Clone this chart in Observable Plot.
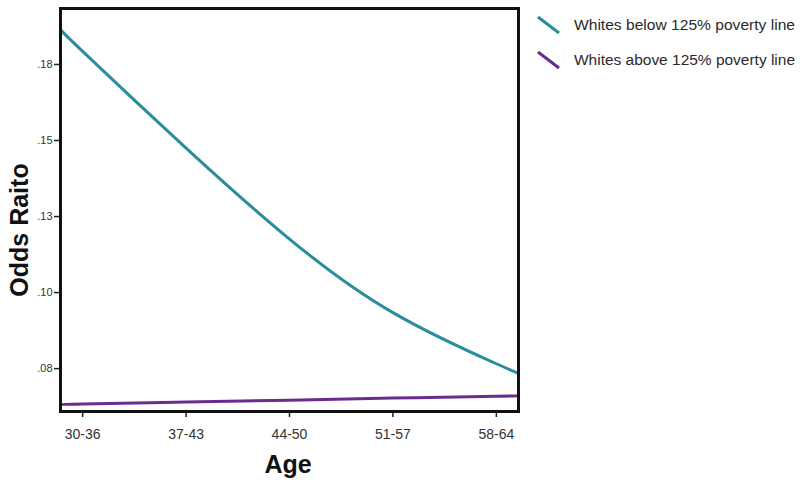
<!DOCTYPE html>
<html>
<head>
<meta charset="utf-8">
<script src="https://cdn.jsdelivr.net/npm/d3@7"></script>
<script src="https://cdn.jsdelivr.net/npm/@observablehq/plot@0.6"></script>
<style>
  html, body { margin: 0; padding: 0; background: #fff; }
  #chart { width: 800px; height: 483px; }
</style>
</head>
<body>
<div id="chart"></div>
<script>
// Age groups (category labels) and their midpoint ages
const ageLabels = ["30-36", "37-43", "44-50", "51-57", "58-64"];
const ageMid = [33, 40, 47, 54, 61];
// Plot extent of lines (age axis runs slightly beyond the first/last groups)
const ageSpan = [31.5, 62.5];
const lineAges = [31.5, 33, 40, 47, 54, 61, 62.5];

// Series values
const belowValues = [0.1865, 0.1793, 0.1475, 0.1176, 0.0934, 0.0766, 0.0734];
const aboveValues = [0.0632, 0.0634, 0.0640, 0.0646, 0.0653, 0.0659, 0.0661];
const seriesNames = ["Whites below 125% poverty line", "Whites above 125% poverty line"];
const seriesColors = ["#2a8d9b", "#6a2c8c"];

// Y ticks and their printed labels
const yTicks = [0.075, 0.10, 0.125, 0.15, 0.175];
const yTickLabels = [".08", ".10", ".13", ".15", ".18"];
const yDomain = [0.0609, 0.1934];

const rows = [];
lineAges.forEach((a, i) => {
  rows.push({age: a, value: belowValues[i], series: seriesNames[0]});
  rows.push({age: a, value: aboveValues[i], series: seriesNames[1]});
});

const svg = Plot.plot({
  width: 800,
  height: 483,
  marginLeft: 60,
  marginRight: 282,
  marginTop: 8,
  marginBottom: 72,
  style: {fontFamily: "Liberation Sans, Arial, sans-serif", background: "#fff"},
  x: {domain: ageSpan},
  y: {domain: yDomain},
  color: {domain: seriesNames, range: seriesColors},
  marks: [
    Plot.line(rows, {x: "age", y: "value", z: "series", stroke: "series", strokeWidth: 3, curve: "natural"}),
    Plot.axisX({
      ticks: ageMid,
      tickFormat: d => ageLabels[ageMid.indexOf(d)],
      tickSize: 6, tickPadding: 12, fontSize: 14, fill: "#333", stroke: "#222", strokeWidth: 1.5,
      label: null
    }),
    Plot.axisY({
      ticks: yTicks,
      tickFormat: d => yTickLabels[yTicks.indexOf(d)],
      tickSize: 6, tickPadding: 2, fontSize: 11, fill: "#333", stroke: "#222", strokeWidth: 1.5,
      label: null
    }),
    Plot.frame({stroke: "#111", strokeWidth: 3})
  ]
});

const s = d3.select(svg);
// Axis titles
s.append("text")
  .attr("x", 288).attr("y", 473)
  .attr("text-anchor", "middle")
  .attr("font-family", "Liberation Sans, Arial, sans-serif")
  .attr("font-weight", "bold").attr("font-size", 25).attr("fill", "#111")
  .text("Age");
s.append("text")
  .attr("transform", "translate(28,230) rotate(-90)")
  .attr("text-anchor", "middle")
  .attr("font-family", "Liberation Sans, Arial, sans-serif")
  .attr("font-weight", "bold").attr("font-size", 25).attr("fill", "#111")
  .text("Odds Raito");

// Legend
const legendY = [25, 60];
seriesNames.forEach((name, i) => {
  const y = legendY[i];
  s.append("line")
    .attr("x1", 538).attr("y1", y - 8).attr("x2", 559).attr("y2", y + 8)
    .attr("stroke", seriesColors[i]).attr("stroke-width", 3);
  s.append("text")
    .attr("x", 574).attr("y", y).attr("dy", "0.35em")
    .attr("text-anchor", "start")
    .attr("font-family", "Liberation Sans, Arial, sans-serif")
    .attr("font-size", 14).attr("fill", "#2a2a2a")
    .attr("textLength", 221).attr("lengthAdjust", "spacingAndGlyphs")
    .text(name);
});

document.getElementById("chart").appendChild(svg);
</script>
</body>
</html>
